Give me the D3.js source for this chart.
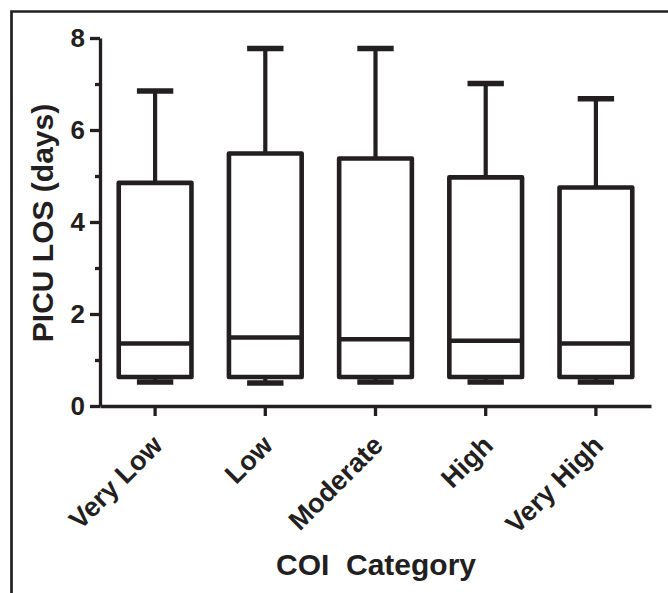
<!DOCTYPE html>
<html>
<head>
<meta charset="utf-8">
<script src="https://cdn.jsdelivr.net/npm/d3@7.9.0/dist/d3.min.js"></script>
<style>
  body { margin: 0; background: #fff; }
  svg { display: block; font-family: 'Liberation Sans', Arial, sans-serif; }
</style>
</head>
<body>
<div id="chart"></div>
<script>
// COI categories and box plot summary values (PICU LOS, days)
const categories = ['Very Low', 'Low', 'Moderate', 'High', 'Very High'];
const whiskerHigh = [6.85, 7.77, 7.77, 7.01, 6.68];
const q3 = [4.85, 5.49, 5.38, 4.97, 4.75];
const median = [1.36, 1.49, 1.45, 1.42, 1.36];
const q1 = [0.63, 0.63, 0.63, 0.63, 0.63];
const whiskerLow = [0.52, 0.5, 0.52, 0.52, 0.52];
const yMajorTicks = [0, 2, 4, 6, 8];
const yMinorTicks = [1, 3, 5, 7];

const width = 668;
const height = 593;
const ink = '#231f20';

const boxes = categories.map((c, i) => ({
  cat: c,
  lo: whiskerLow[i],
  q1: q1[i],
  med: median[i],
  q3: q3[i],
  hi: whiskerHigh[i],
}));

const svg = d3
  .select('#chart')
  .append('svg')
  .attr('width', width)
  .attr('height', height);

// frame (top and left edges only)
svg.append('path')
  .attr('d', `M11.5,${height}V11.5H${width}`)
  .attr('fill', 'none')
  .attr('stroke', ink)
  .attr('stroke-width', 2.7);

const x = d3.scaleBand().domain(categories).range([100, 651]);
const y = d3.scaleLinear().domain([0, 8]).range([406, 38]);

const boxW = x.bandwidth() * 0.66;
const capW = boxW / 2;

// Y axis: major ticks
const yAxis = svg.append('g')
  .attr('transform', 'translate(100,0)')
  .call(d3.axisLeft(y).tickValues(yMajorTicks).tickSize(10).tickSizeOuter(0).tickPadding(5));

// Y axis: minor ticks
svg.append('g')
  .attr('transform', 'translate(100,0)')
  .call(d3.axisLeft(y).tickValues(yMinorTicks).tickSize(5).tickFormat(''))
  .call((g) => g.select('.domain').remove());

// X axis
const xAxis = svg.append('g')
  .attr('transform', 'translate(0,406)')
  .call(d3.axisBottom(x).tickSize(10).tickSizeOuter(0));

svg.selectAll('.domain').attr('stroke', ink).attr('stroke-width', 3.3);
svg.selectAll('.tick line').attr('stroke', ink).attr('stroke-width', 3.3);

yAxis.selectAll('text')
  .attr('fill', ink)
  .style('font-size', '26px')
  .style('font-weight', 'bold');

xAxis.selectAll('text')
  .attr('fill', ink)
  .attr('text-anchor', 'end')
  .attr('dy', 0)
  .attr('y', 0)
  .attr('transform', 'translate(9,41) rotate(-45)')
  .style('font-size', '27px')
  .style('font-weight', 'bold');

// boxes
const g = svg.append('g').attr('class', 'boxes');
const bx = g.selectAll('g')
  .data(boxes)
  .join('g')
  .attr('transform', (d) => `translate(${x(d.cat) + x.bandwidth() / 2},0)`);

// whiskers
bx.append('line')
  .attr('y1', (d) => y(d.q3))
  .attr('y2', (d) => y(d.hi))
  .attr('stroke', ink)
  .attr('stroke-width', 4.2);
bx.append('line')
  .attr('y1', (d) => y(d.q1))
  .attr('y2', (d) => y(d.lo))
  .attr('stroke', ink)
  .attr('stroke-width', 4.2);

// caps
bx.selectAll('.cap')
  .data((d) => [d.hi, d.lo])
  .join('line')
  .attr('class', 'cap')
  .attr('x1', -capW / 2)
  .attr('x2', capW / 2)
  .attr('y1', (v) => y(v))
  .attr('y2', (v) => y(v))
  .attr('stroke', ink)
  .attr('stroke-width', 5.5);

// box
bx.append('rect')
  .attr('x', -boxW / 2)
  .attr('width', boxW)
  .attr('y', (d) => y(d.q3))
  .attr('height', (d) => y(d.q1) - y(d.q3))
  .attr('fill', '#fff')
  .attr('stroke', ink)
  .attr('stroke-width', 4.6)
  .attr('stroke-linejoin', 'round');

// median
bx.append('line')
  .attr('x1', -boxW / 2)
  .attr('x2', boxW / 2)
  .attr('y1', (d) => y(d.med))
  .attr('y2', (d) => y(d.med))
  .attr('stroke', ink)
  .attr('stroke-width', 4.6);

// axis titles
svg.append('text')
  .attr('transform', 'translate(53,223) rotate(-90)')
  .attr('text-anchor', 'middle')
  .attr('fill', ink)
  .style('font-size', '30px')
  .style('font-weight', 'bold')
  .text('PICU LOS (days)');

svg.append('text')
  .attr('x', 376)
  .attr('y', 575)
  .attr('text-anchor', 'middle')
  .attr('fill', ink)
  .style('font-size', '30px')
  .style('font-weight', 'bold')
  .style('white-space', 'pre')
  .text('COI  Category');
</script>
</body>
</html>
